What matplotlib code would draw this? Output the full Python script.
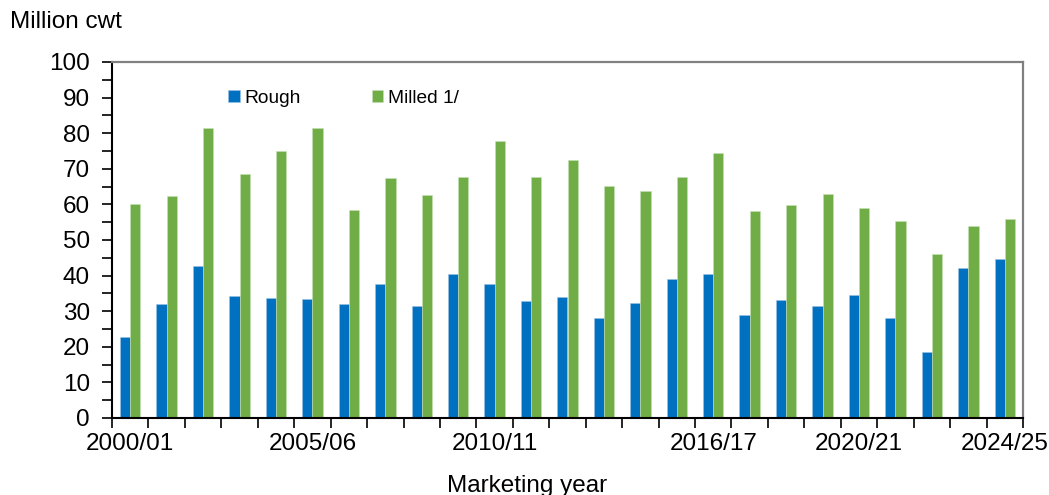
import numpy as np
import matplotlib
matplotlib.use("Agg")
import matplotlib.pyplot as plt

plt.rcParams["font.family"] = ["Liberation Sans", "DejaVu Sans"]

# marketing years 2000/01 .. 2024/25
years = [f"{y}/{str(y + 1)[-2:]}" for y in range(2000, 2025)]
shown_labels = ["2000/01", "2005/06", "2010/11", "2016/17", "2020/21", "2024/25"]

rough = [22.8, 32.0, 42.7, 34.2, 33.7, 33.3, 32.0, 37.6, 31.6, 40.4,
         37.6, 33.0, 34.1, 28.0, 32.2, 39.0, 40.4, 28.8, 33.1, 31.4,
         34.5, 28.1, 18.4, 42.0, 44.8]
milled = [60.2, 62.5, 81.6, 68.5, 74.9, 81.4, 58.4, 67.5, 62.6, 67.8,
          77.7, 67.8, 72.5, 65.2, 63.9, 67.7, 74.3, 58.1, 59.9, 62.8,
          58.9, 55.2, 46.1, 54.0, 56.0]

blue = "#0070C0"
green = "#70AD47"

fig = plt.figure(figsize=(10.49, 4.95), dpi=100)
ax = fig.add_axes([112 / 1049, 77 / 495, 911 / 1049, 356 / 495])

x = np.arange(len(years))
w = 0.28
ax.bar(x - w / 2, rough, w, color=blue, label="Rough", edgecolor="#9DC3E6", linewidth=0.4)
ax.bar(x + w / 2, milled, w, color=green, label="Milled 1/", edgecolor="#C5E0B4", linewidth=0.4)

ax.set_xlim(-0.5, len(years) - 0.5)
ax.set_ylim(0, 100)

# labels at category centres, ticks on the category boundaries
ax.set_xticks(x)
ax.set_xticklabels([y if y in shown_labels else "" for y in years], fontsize=17.5)
ax.tick_params(axis="x", which="major", length=0, pad=11)
ax.set_xticks(np.arange(-0.5, len(years)), minor=True)
ax.tick_params(axis="x", which="minor", length=7, width=1.2, color="black")

ax.set_yticks(np.arange(0, 101, 10))
ax.set_yticks(np.arange(5, 100, 10), minor=True)
ax.tick_params(axis="y", which="both", length=7, width=1.2, color="black", labelsize=17.5, pad=9)

for s in ["left", "bottom"]:
    ax.spines[s].set_color("black")
    ax.spines[s].set_linewidth(1.5)
for s in ["top", "right"]:
    ax.spines[s].set_color("#808080")
    ax.spines[s].set_linewidth(1.6)

ax.legend(loc="upper left", bbox_to_anchor=(228 / 1049, 1 - 90 / 495), bbox_transform=fig.transFigure,
          ncol=2, frameon=False, fontsize=13.8, handlelength=0.6, handleheight=0.6,
          handletextpad=0.25, columnspacing=3.7, borderpad=0, borderaxespad=0)

fig.text(10 / 1049, 1 - 22 / 495, "Million cwt", fontsize=17.5, ha="left", va="center")
fig.text(527 / 1049, 1 - 486 / 495, "Marketing year", fontsize=17.5, ha="center", va="center")

fig.savefig("out.png", dpi=100)
